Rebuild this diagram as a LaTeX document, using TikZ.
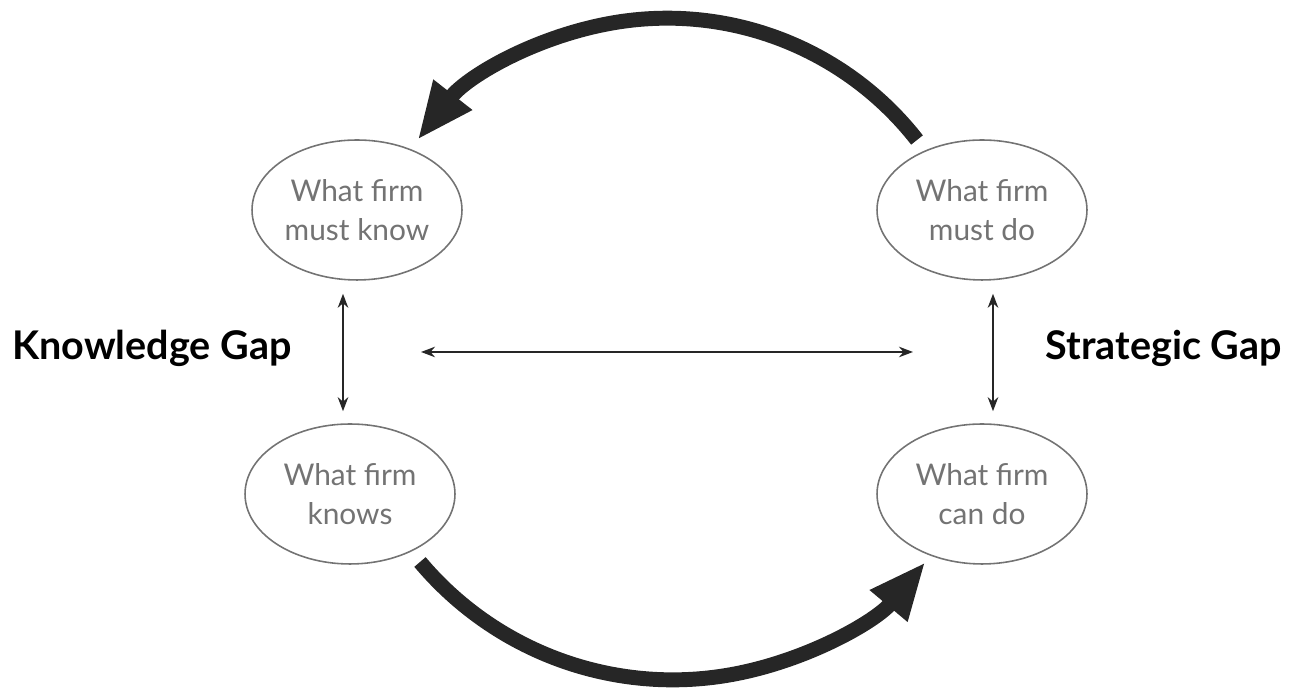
\documentclass[tikz,border=0pt]{standalone}
\usepackage{fontspec}
\setmainfont{Lato}
\usetikzlibrary{arrows.meta,shapes.geometric}

\begin{document}
\begin{tikzpicture}[x=0.02cm,y=0.02cm,
  state/.style={ellipse,draw=black!55,line width=0.9pt,text=black!55,minimum width=4.2cm,minimum height=2.8cm,inner sep=0pt,align=center,font=\fontsize{17}{22}\selectfont},
  gap/.style={draw=black!85,line width=1.1pt,{Stealth[length=8pt,width=6pt]}-{Stealth[length=8pt,width=6pt]}},
  gaplabel/.style={anchor=base,font=\fontsize{22.5}{26}\selectfont\bfseries},
  cycle arrow/.style={draw=black!85,line width=8.5pt,-{Triangle[length=1.15cm,width=0.9cm]}}]

\useasboundingbox (0,0) rectangle (1296,692);

% the four states
\node[state] (mk) at (357,482) {What firm\\must know};
\node[state] (md) at (982,482) {What firm\\must do};
\node[state] (kn) at (350,198) {What firm\\knows};
\node[state] (cd) at (982,198) {What firm\\can do};

% gap labels
\node[gaplabel] (kg) at (152,332) {Knowledge Gap};
\node[gaplabel] (sg) at (1164,332) {Strategic Gap};

% gaps
\draw[gap,shorten <=0.26cm,shorten >=0.24cm] ([xshift=-0.28cm]mk.south) -- ([xshift=-0.28cm]mk.south |- kn.north);
\draw[gap,shorten <=0.26cm,shorten >=0.24cm] ([xshift=0.22cm]md.south) -- ([xshift=0.22cm]md.south |- cd.north);
\coordinate (hl) at (421,340);
\coordinate (hr) at (913,340);
\draw[gap,line width=0.8pt] (hl) -- (hr);

% the cycle
\coordinate (t1) at (917,552);
\coordinate (t2) at (420,130);
\draw[cycle arrow] (t1) arc[start angle=38,end angle=142,radius=6.34cm];
\draw[cycle arrow] (t2) arc[start angle=220,end angle=320,radius=6.6cm];
\end{tikzpicture}
\end{document}
